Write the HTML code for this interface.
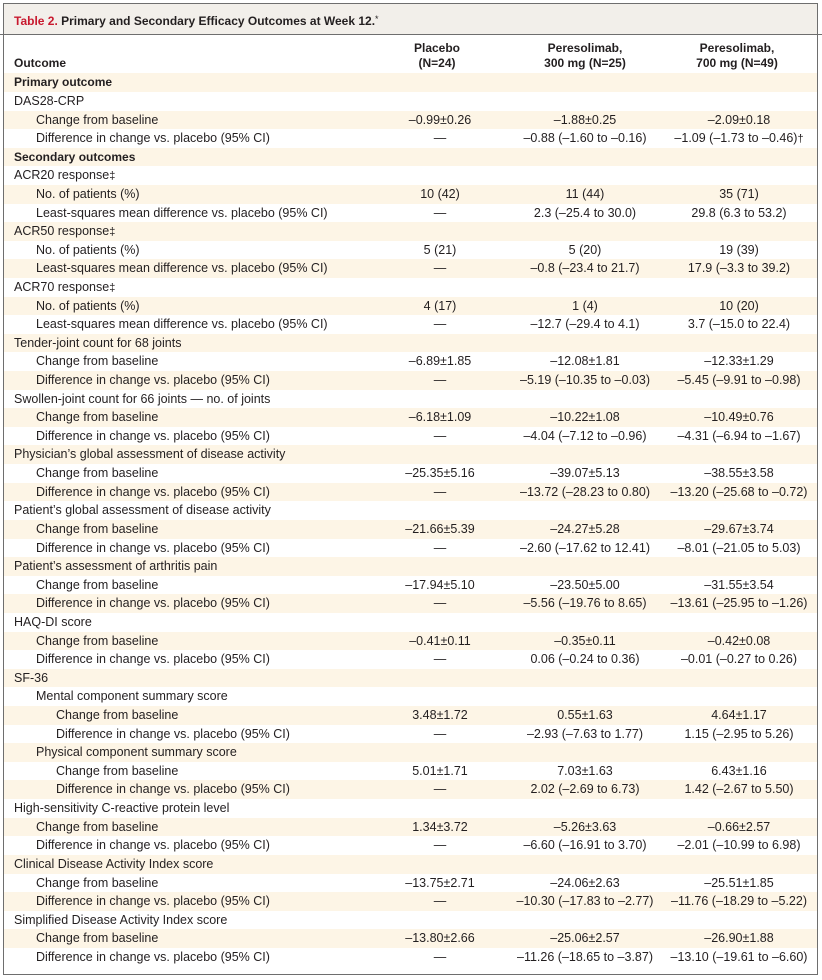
<!DOCTYPE html>
<html><head><meta charset="utf-8">
<style>
html,body{margin:0;padding:0;background:#fff;}
body{width:822px;height:980px;position:relative;overflow:hidden;font-family:"Liberation Sans",Arial,sans-serif;color:#231f20;font-size:12.5px;}
.frame{position:absolute;left:3px;top:3px;width:815px;height:972px;box-sizing:border-box;border:1px solid #6e6e6e;}
.band{position:absolute;left:4px;top:4px;width:813px;height:30px;background:#f2efea;}
.bline{position:absolute;left:0;top:34px;width:822px;height:1px;background:#6e6e6e;}
.title{position:absolute;left:14px;top:4px;height:30px;line-height:30px;font-weight:bold;font-size:12px;white-space:nowrap;}
.title .red{color:#c8192e;}
.title sup{font-size:9px;vertical-align:3px;font-weight:normal;}
.hdr{position:absolute;top:41px;line-height:15px;font-weight:bold;font-size:12px;text-align:center;white-space:nowrap;}
.rows{position:absolute;left:4px;top:73.3px;width:813px;}
.r{position:relative;height:18.62px;line-height:18.62px;white-space:nowrap;}
.r:nth-child(odd){background:#fdf5e6;}
.l{position:absolute;left:10px;top:0;}
.i1{left:32px;}
.i2{left:52px;}
.b{font-weight:bold;font-size:12px;}
.c{position:absolute;top:0;width:200px;text-align:center;}
.c1{left:336px;}
.c2{left:481px;}
.c3{left:635px;}
.dd{font-size:11px;}
</style></head>
<body>
<div class="band"></div>
<div class="frame"></div>
<div class="bline"></div>
<div class="title"><span class="red">Table 2.</span> Primary and Secondary Efficacy Outcomes at Week 12.<sup>*</sup></div>

<div class="hdr" style="left:14px;text-align:left;top:56px;">Outcome</div>
<div class="hdr" style="left:377px;width:120px;">Placebo<br>(N=24)</div>
<div class="hdr" style="left:505px;width:160px;">Peresolimab,<br>300 mg (N=25)</div>
<div class="hdr" style="left:657px;width:160px;">Peresolimab,<br>700 mg (N=49)</div>

<div class="rows">
<div class="r"><span class="l b">Primary outcome</span></div>
<div class="r"><span class="l">DAS28-CRP</span></div>
<div class="r"><span class="l i1">Change from baseline</span><span class="c c1">–0.99±0.26</span><span class="c c2">–1.88±0.25</span><span class="c c3">–2.09±0.18</span></div>
<div class="r"><span class="l i1">Difference in change vs. placebo (95% CI)</span><span class="c c1">—</span><span class="c c2">–0.88 (–1.60 to –0.16)</span><span class="c c3">–1.09 (–1.73 to –0.46)<span class="dd">†</span></span></div>
<div class="r"><span class="l b">Secondary outcomes</span></div>
<div class="r"><span class="l">ACR20 response<span class="dd">‡</span></span></div>
<div class="r"><span class="l i1">No. of patients (%)</span><span class="c c1">10 (42)</span><span class="c c2">11 (44)</span><span class="c c3">35 (71)</span></div>
<div class="r"><span class="l i1">Least-squares mean difference vs. placebo (95% CI)</span><span class="c c1">—</span><span class="c c2">2.3 (–25.4 to 30.0)</span><span class="c c3">29.8 (6.3 to 53.2)</span></div>
<div class="r"><span class="l">ACR50 response<span class="dd">‡</span></span></div>
<div class="r"><span class="l i1">No. of patients (%)</span><span class="c c1">5 (21)</span><span class="c c2">5 (20)</span><span class="c c3">19 (39)</span></div>
<div class="r"><span class="l i1">Least-squares mean difference vs. placebo (95% CI)</span><span class="c c1">—</span><span class="c c2">–0.8 (–23.4 to 21.7)</span><span class="c c3">17.9 (–3.3 to 39.2)</span></div>
<div class="r"><span class="l">ACR70 response<span class="dd">‡</span></span></div>
<div class="r"><span class="l i1">No. of patients (%)</span><span class="c c1">4 (17)</span><span class="c c2">1 (4)</span><span class="c c3">10 (20)</span></div>
<div class="r"><span class="l i1">Least-squares mean difference vs. placebo (95% CI)</span><span class="c c1">—</span><span class="c c2">–12.7 (–29.4 to 4.1)</span><span class="c c3">3.7 (–15.0 to 22.4)</span></div>
<div class="r"><span class="l">Tender-joint count for 68 joints</span></div>
<div class="r"><span class="l i1">Change from baseline</span><span class="c c1">–6.89±1.85</span><span class="c c2">–12.08±1.81</span><span class="c c3">–12.33±1.29</span></div>
<div class="r"><span class="l i1">Difference in change vs. placebo (95% CI)</span><span class="c c1">—</span><span class="c c2">–5.19 (–10.35 to –0.03)</span><span class="c c3">–5.45 (–9.91 to –0.98)</span></div>
<div class="r"><span class="l">Swollen-joint count for 66 joints — no. of joints</span></div>
<div class="r"><span class="l i1">Change from baseline</span><span class="c c1">–6.18±1.09</span><span class="c c2">–10.22±1.08</span><span class="c c3">–10.49±0.76</span></div>
<div class="r"><span class="l i1">Difference in change vs. placebo (95% CI)</span><span class="c c1">—</span><span class="c c2">–4.04 (–7.12 to –0.96)</span><span class="c c3">–4.31 (–6.94 to –1.67)</span></div>
<div class="r"><span class="l">Physician’s global assessment of disease activity</span></div>
<div class="r"><span class="l i1">Change from baseline</span><span class="c c1">–25.35±5.16</span><span class="c c2">–39.07±5.13</span><span class="c c3">–38.55±3.58</span></div>
<div class="r"><span class="l i1">Difference in change vs. placebo (95% CI)</span><span class="c c1">—</span><span class="c c2">–13.72 (–28.23 to 0.80)</span><span class="c c3">–13.20 (–25.68 to –0.72)</span></div>
<div class="r"><span class="l">Patient’s global assessment of disease activity</span></div>
<div class="r"><span class="l i1">Change from baseline</span><span class="c c1">–21.66±5.39</span><span class="c c2">–24.27±5.28</span><span class="c c3">–29.67±3.74</span></div>
<div class="r"><span class="l i1">Difference in change vs. placebo (95% CI)</span><span class="c c1">—</span><span class="c c2">–2.60 (–17.62 to 12.41)</span><span class="c c3">–8.01 (–21.05 to 5.03)</span></div>
<div class="r"><span class="l">Patient’s assessment of arthritis pain</span></div>
<div class="r"><span class="l i1">Change from baseline</span><span class="c c1">–17.94±5.10</span><span class="c c2">–23.50±5.00</span><span class="c c3">–31.55±3.54</span></div>
<div class="r"><span class="l i1">Difference in change vs. placebo (95% CI)</span><span class="c c1">—</span><span class="c c2">–5.56 (–19.76 to 8.65)</span><span class="c c3">–13.61 (–25.95 to –1.26)</span></div>
<div class="r"><span class="l">HAQ-DI score</span></div>
<div class="r"><span class="l i1">Change from baseline</span><span class="c c1">–0.41±0.11</span><span class="c c2">–0.35±0.11</span><span class="c c3">–0.42±0.08</span></div>
<div class="r"><span class="l i1">Difference in change vs. placebo (95% CI)</span><span class="c c1">—</span><span class="c c2">0.06 (–0.24 to 0.36)</span><span class="c c3">–0.01 (–0.27 to 0.26)</span></div>
<div class="r"><span class="l">SF-36</span></div>
<div class="r"><span class="l i1">Mental component summary score</span></div>
<div class="r"><span class="l i2">Change from baseline</span><span class="c c1">3.48±1.72</span><span class="c c2">0.55±1.63</span><span class="c c3">4.64±1.17</span></div>
<div class="r"><span class="l i2">Difference in change vs. placebo (95% CI)</span><span class="c c1">—</span><span class="c c2">–2.93 (–7.63 to 1.77)</span><span class="c c3">1.15 (–2.95 to 5.26)</span></div>
<div class="r"><span class="l i1">Physical component summary score</span></div>
<div class="r"><span class="l i2">Change from baseline</span><span class="c c1">5.01±1.71</span><span class="c c2">7.03±1.63</span><span class="c c3">6.43±1.16</span></div>
<div class="r"><span class="l i2">Difference in change vs. placebo (95% CI)</span><span class="c c1">—</span><span class="c c2">2.02 (–2.69 to 6.73)</span><span class="c c3">1.42 (–2.67 to 5.50)</span></div>
<div class="r"><span class="l">High-sensitivity C-reactive protein level</span></div>
<div class="r"><span class="l i1">Change from baseline</span><span class="c c1">1.34±3.72</span><span class="c c2">–5.26±3.63</span><span class="c c3">–0.66±2.57</span></div>
<div class="r"><span class="l i1">Difference in change vs. placebo (95% CI)</span><span class="c c1">—</span><span class="c c2">–6.60 (–16.91 to 3.70)</span><span class="c c3">–2.01 (–10.99 to 6.98)</span></div>
<div class="r"><span class="l">Clinical Disease Activity Index score</span></div>
<div class="r"><span class="l i1">Change from baseline</span><span class="c c1">–13.75±2.71</span><span class="c c2">–24.06±2.63</span><span class="c c3">–25.51±1.85</span></div>
<div class="r"><span class="l i1">Difference in change vs. placebo (95% CI)</span><span class="c c1">—</span><span class="c c2">–10.30 (–17.83 to –2.77)</span><span class="c c3">–11.76 (–18.29 to –5.22)</span></div>
<div class="r"><span class="l">Simplified Disease Activity Index score</span></div>
<div class="r"><span class="l i1">Change from baseline</span><span class="c c1">–13.80±2.66</span><span class="c c2">–25.06±2.57</span><span class="c c3">–26.90±1.88</span></div>
<div class="r"><span class="l i1">Difference in change vs. placebo (95% CI)</span><span class="c c1">—</span><span class="c c2">–11.26 (–18.65 to –3.87)</span><span class="c c3">–13.10 (–19.61 to –6.60)</span></div>
</div>
</body></html>
